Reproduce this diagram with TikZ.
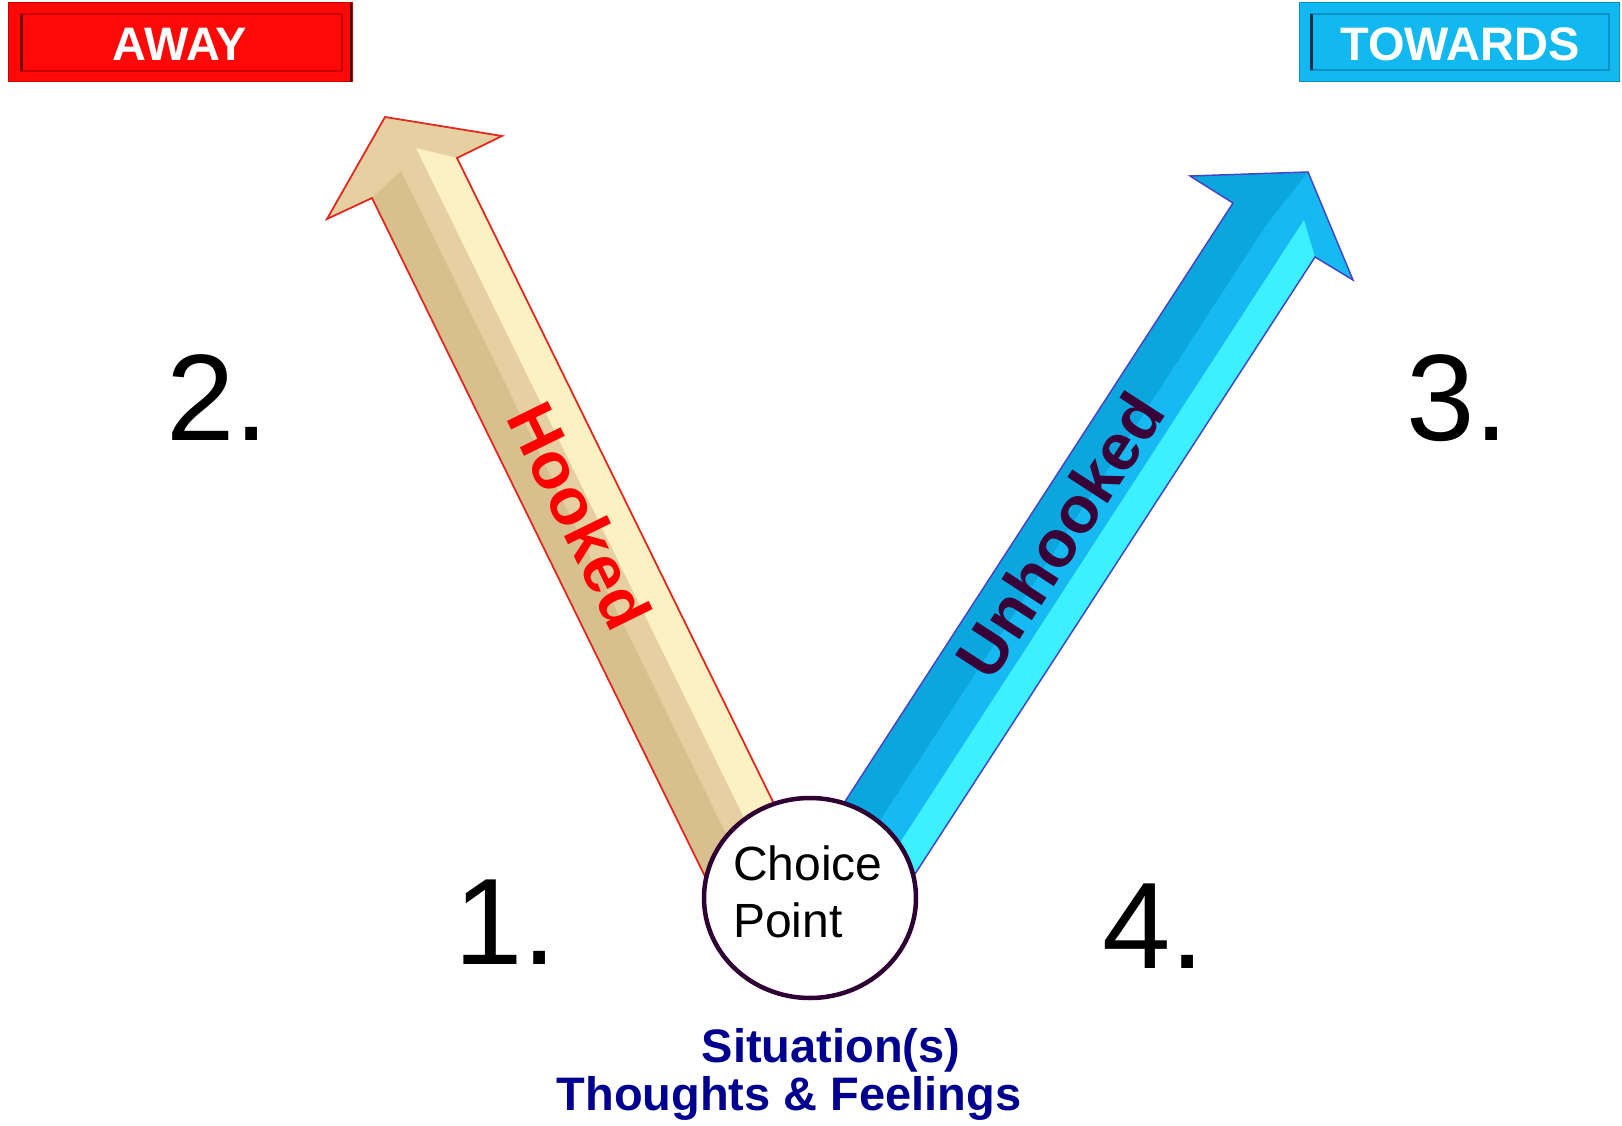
\documentclass[tikz,border=0pt]{standalone}
\usepackage{fontspec}
\setmainfont{Liberation Sans}
\usetikzlibrary{shapes.geometric}
\definecolor{awayred}{HTML}{FF0808}
\definecolor{awaydark}{HTML}{7A0000}
\definecolor{awayline}{HTML}{C80000}
\definecolor{towblue}{HTML}{12B8F0}
\definecolor{towdark}{HTML}{003048}
\definecolor{towline}{HTML}{0A90C8}
\definecolor{woodbase}{HTML}{E6CFA0}
\definecolor{wooddark}{HTML}{D8BF8E}
\definecolor{woodlight}{HTML}{FCF1C2}
\definecolor{hookred}{HTML}{E02A20}
\definecolor{bluebase}{HTML}{16B9F1}
\definecolor{bluedark}{HTML}{0CA6DF}
\definecolor{bluelight}{HTML}{3CF0FF}
\definecolor{blueline}{HTML}{4545C8}
\definecolor{circline}{HTML}{2E0033}
\definecolor{unhook}{HTML}{3A0038}
\definecolor{navytext}{HTML}{000090}
\tikzset{
  bigno/.style={anchor=base west, inner sep=0pt, font=\fontsize{123}{123}\selectfont, text=black},
  boxtext/.style={inner sep=0pt, text=white, font=\bfseries\fontsize{47}{47}\selectfont},
  arrowtext/.style={inner sep=0pt, font=\bfseries\fontsize{66}{66}\selectfont},
  cptext/.style={anchor=base west, inner sep=0pt, font=\fontsize{48}{57}\selectfont, text=black},
  sittext/.style={anchor=base, inner sep=0pt, text=navytext, font=\bfseries\fontsize{47}{47}\selectfont},
}
\begin{document}
\begin{tikzpicture}[x=1pt,y=-1pt]
\useasboundingbox[fill=white] (0,0) rectangle (1622,1126);

% AWAY box
\fill[awayred] (8,3) rectangle (352,82);
\draw[awayline, line width=1pt] (8,3) rectangle (352,82);
\draw[awayline, line width=1.2pt] (21,14) rectangle (342,71);
\draw[awaydark, line width=3pt] (21,14) -- (21,71);
\draw[awaydark!60!black, line width=2pt] (351,3) -- (351,82);
\node[boxtext] (away) at (180,44.5) {AWAY};

% TOWARDS box
\fill[towblue] (1299,3) rectangle (1619,82);
\draw[towline, line width=1pt] (1299,3) rectangle (1619,82);
\draw[towline, line width=1.2pt] (1311,14) rectangle (1609,70);
\draw[towdark, line width=3pt] (1311,14) -- (1311,70);
\node[boxtext] (towards) at (1460,44.5) {TOWARDS};

% Hooked arrow (beige)
\fill[woodbase] (385,117) -- (502,136) -- (457,158) -- (805,867) -- (720,907) -- (372,198) -- (327,219) -- cycle;
\begin{scope}
  \clip (385,117) -- (502,136) -- (457,158) -- (805,867) -- (720,907) -- (372,198) -- (327,219) -- cycle;
  \fill[wooddark] (372,198) -- (401,171) -- (754,891) -- (720,907) -- cycle;
  \fill[woodlight] (416,148) -- (457,158) -- (805,867) -- (775,881) -- cycle;
\end{scope}
\draw[hookred, line width=1.8pt, line join=miter] (720,907) -- (372,198) -- (327,219) -- (385,117) -- (502,136) -- (457,158) -- (805,867);
\node[arrowtext, text=red, rotate=-63.9] (hooked) at (580,516) {Hooked};

% Unhooked arrow (blue)
\fill[bluebase] (1308,172) -- (1353,280) -- (1315,257) -- (891,911) -- (809,857) -- (1233,203) -- (1190,176) -- cycle;
\begin{scope}
  \clip (1308,172) -- (1353,280) -- (1315,257) -- (891,911) -- (809,857) -- (1233,203) -- (1190,176) -- cycle;
  \fill[bluedark] (1190,176) -- (1308,172) -- (1266,225) -- (842,879) -- (809,857) -- (1233,203) -- cycle;
  \fill[bluelight] (1304,220) -- (1315,257) -- (891,911) -- (866,895) -- cycle;
\end{scope}
\draw[blueline, line width=1.5pt, line join=miter] (809,857) -- (1233,203) -- (1190,176) -- (1308,172) -- (1353,280) -- (1315,257) -- (891,911);
\node[arrowtext, text=unhook, rotate=57] (unhooked) at (1060,535) {Unhooked};

% Choice point circle
\node[ellipse, draw=circline, line width=4.5pt, fill=white, minimum width=212pt, minimum height=200pt, inner sep=0pt] (cp) at (810,898) {};
\node[cptext] (choice) at (733,880) {Choice};
\node[cptext] (point) at (733,937) {Point};

% numbers
\node[bigno] (n2) at (166,440) {2.};
\node[bigno] (n3) at (1406,440) {3.};
\node[bigno] (n1) at (454,964) {1.};
\node[bigno] (n4) at (1102,968) {4.};

% bottom texts
\node[sittext] (sit) at (831,1062) {Situation(s)};
\node[sittext] (tf) at (789,1110) {Thoughts \& Feelings};
\end{tikzpicture}
\end{document}
